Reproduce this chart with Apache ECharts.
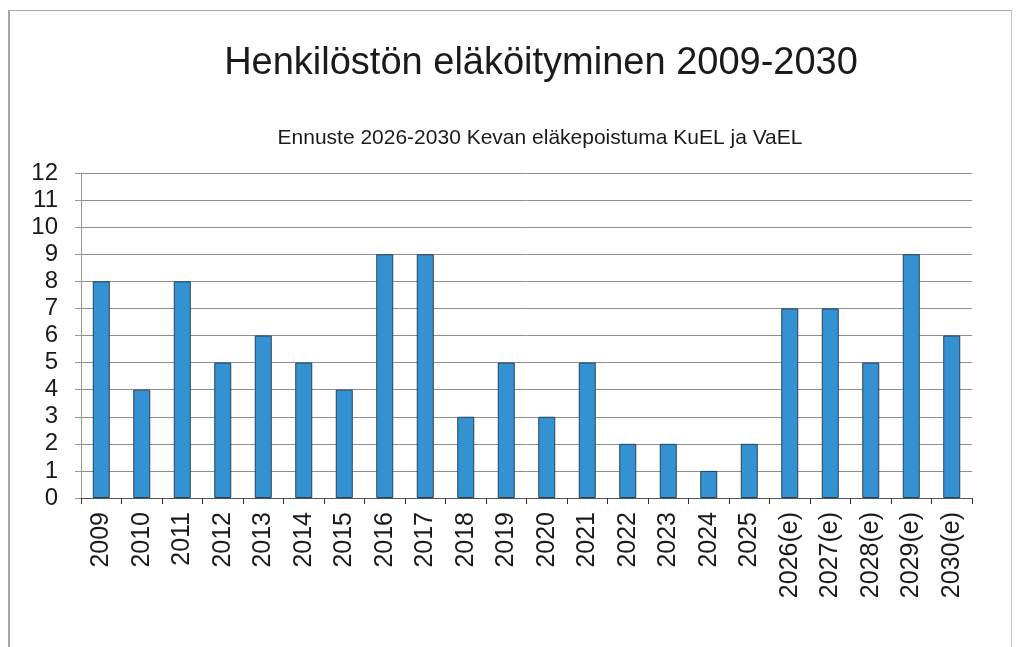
<!DOCTYPE html>
<html lang="fi">
<head>
    <meta charset="UTF-8">
    <title>Henkilöstön eläköityminen 2009-2030</title>
    <script src="https://cdn.jsdelivr.net/npm/echarts@6/dist/echarts.min.js"></script>
    <style>
        html, body {
            margin: 0;
            padding: 0;
            background: #fff;
        }
        #frame {
            position: absolute;
            left: 8px;
            top: 10px;
            width: 1001px;
            height: 650px;
            border-left: 2px solid #a8a8a8;
            border-top: 1px solid #a8a8a8;
            border-right: 1px solid #c8c8c8;
        }
        #chart {
            position: absolute;
            left: 0;
            top: 0;
            width: 1017px;
            height: 647px;
        }
    </style>
</head>
<body>
    <div id="frame"></div>
    <div id="chart"></div>

    <script>
        var years = ['2009', '2010', '2011', '2012', '2013', '2014', '2015', '2016', '2017', '2018', '2019',
            '2020', '2021', '2022', '2023', '2024', '2025', '2026(e)', '2027(e)', '2028(e)', '2029(e)', '2030(e)'];
        var retirements = [8, 4, 8, 5, 6, 5, 4, 9, 9, 3, 5, 3, 5, 2, 2, 1, 2, 7, 7, 5, 9, 6];

        var myChart = echarts.init(document.getElementById('chart'));

        var font = 'Liberation Sans, Arial, sans-serif';

        var option = {
            backgroundColor: 'transparent',
            animation: false,
            title: [
                {
                    text: 'Henkilöstön eläköityminen 2009-2030',
                    left: 536,
                    top: 40,
                    textAlign: 'center',
                    textStyle: { fontFamily: font, fontSize: 38, fontWeight: 'normal', color: '#1a1a1a' }
                },
                {
                    text: 'Ennuste 2026-2030 Kevan eläkepoistuma KuEL ja VaEL',
                    left: 535,
                    top: 123,
                    textAlign: 'center',
                    textStyle: { fontFamily: font, fontSize: 21, fontWeight: 'normal', color: '#1a1a1a' }
                }
            ],
            grid: {
                left: 81,
                right: 45,
                top: 173,
                bottom: 149
            },
            xAxis: {
                type: 'category',
                data: years,
                axisLine: { lineStyle: { color: '#555', width: 1 } },
                axisTick: { show: true, length: 6, lineStyle: { color: '#333' } },
                axisLabel: {
                    rotate: 90,
                    interval: 0,
                    margin: 14,
                    fontFamily: font,
                    fontSize: 25,
                    color: '#1a1a1a'
                }
            },
            yAxis: {
                type: 'value',
                min: 0,
                max: 12,
                interval: 1,
                axisLine: { show: true, lineStyle: { color: '#999' } },
                axisTick: { show: true, length: 6, lineStyle: { color: '#999' } },
                splitLine: { lineStyle: { color: '#8e8e8e', width: 1 } },
                axisLabel: {
                    margin: 23,
                    fontFamily: font,
                    fontSize: 24,
                    color: '#1a1a1a'
                }
            },
            series: [
                {
                    type: 'bar',
                    data: retirements,
                    barWidth: 17,
                    itemStyle: {
                        color: '#3592d2',
                        borderColor: '#24435e',
                        borderWidth: 1
                    }
                }
            ]
        };

        myChart.setOption(option);
    </script>
</body>
</html>
